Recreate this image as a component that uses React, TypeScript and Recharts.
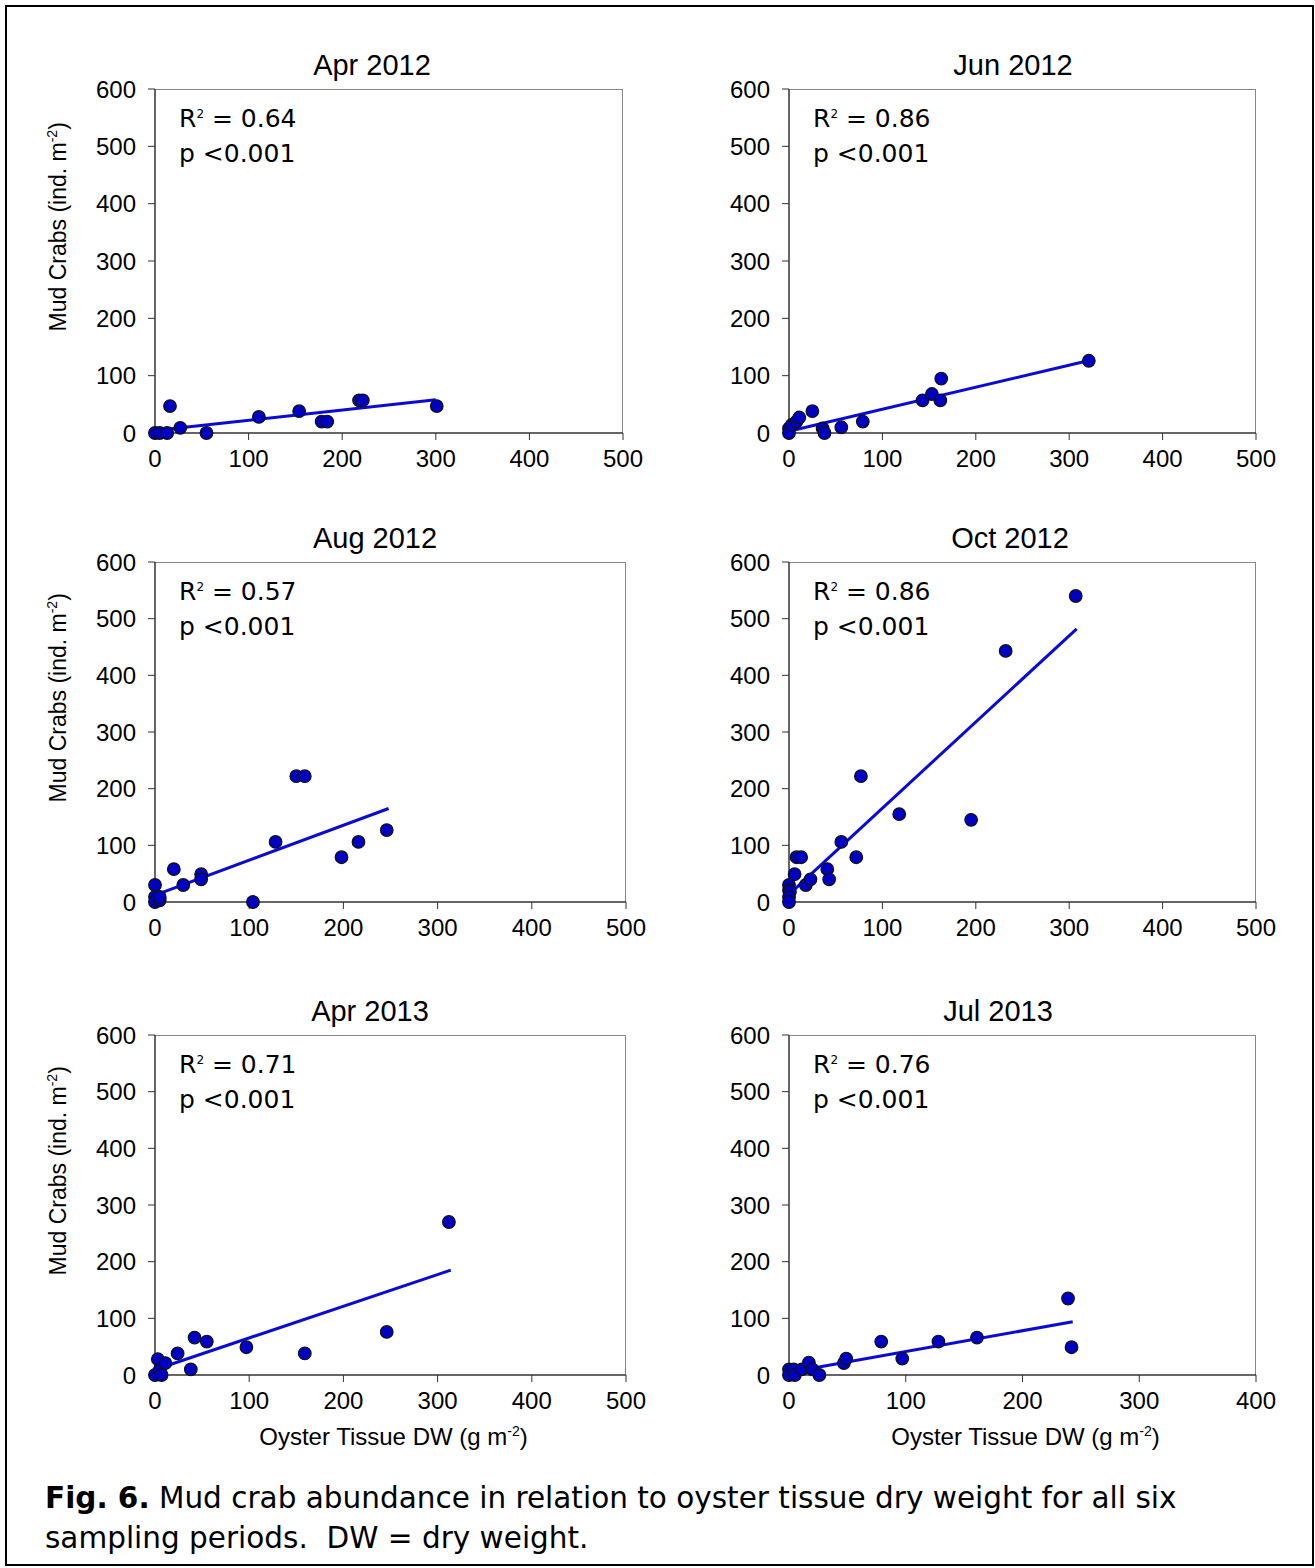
import React from "react";
import { ScatterChart, Scatter, XAxis, YAxis } from "recharts";

type Pt = { x: number; y: number };

const yTicks = [0, 100, 200, 300, 400, 500, 600];
const xTicks500 = [0, 100, 200, 300, 400, 500];
const xTicks400 = [0, 100, 200, 300, 400];

const apr2012: Pt[] = [
  { x: 0, y: 0 }, { x: 5, y: 0 }, { x: 13, y: 0 }, { x: 16, y: 47 }, { x: 27, y: 9 }, { x: 55, y: 0 },
  { x: 111, y: 28 }, { x: 154, y: 38 }, { x: 178, y: 20 }, { x: 184, y: 20 }, { x: 218, y: 57 },
  { x: 222, y: 57 }, { x: 301, y: 47 },
];
const apr2012Trend: Pt[] = [{ x: 10, y: 6 }, { x: 300, y: 58 }];

const jun2012: Pt[] = [
  { x: 0, y: 8 }, { x: 0, y: 0 }, { x: 3, y: 14 }, { x: 8, y: 20 }, { x: 11, y: 27 }, { x: 25, y: 38 },
  { x: 36, y: 8 }, { x: 38, y: 0 }, { x: 56, y: 10 }, { x: 79, y: 20 }, { x: 143, y: 57 },
  { x: 153, y: 68 }, { x: 162, y: 57 }, { x: 163, y: 95 }, { x: 321, y: 126 },
];
const jun2012Trend: Pt[] = [{ x: 0, y: 3 }, { x: 320, y: 126 }];

const aug2012: Pt[] = [
  { x: 0, y: 30 }, { x: 0, y: 9 }, { x: 0, y: 0 }, { x: 5, y: 3 }, { x: 5, y: 9 }, { x: 20, y: 58 },
  { x: 30, y: 30 }, { x: 49, y: 49 }, { x: 49, y: 40 }, { x: 104, y: 0 }, { x: 128, y: 106 },
  { x: 150, y: 222 }, { x: 159, y: 222 }, { x: 198, y: 79 }, { x: 216, y: 106 }, { x: 246, y: 127 },
];
const aug2012Trend: Pt[] = [{ x: 3, y: 14 }, { x: 248, y: 165 }];

const oct2012: Pt[] = [
  { x: 0, y: 30 }, { x: 0, y: 21 }, { x: 1, y: 18 }, { x: 0, y: 9 }, { x: 0, y: 0 }, { x: 6, y: 49 },
  { x: 8, y: 79 }, { x: 13, y: 79 }, { x: 18, y: 30 }, { x: 23, y: 40 }, { x: 41, y: 58 },
  { x: 43, y: 40 }, { x: 56, y: 106 }, { x: 72, y: 79 }, { x: 77, y: 222 }, { x: 118, y: 155 },
  { x: 195, y: 145 }, { x: 232, y: 443 }, { x: 307, y: 540 },
];
const oct2012Trend: Pt[] = [{ x: 3, y: 18 }, { x: 308, y: 482 }];

const apr2013: Pt[] = [
  { x: 0, y: 0 }, { x: 3, y: 28 }, { x: 5, y: 9 }, { x: 7, y: 0 }, { x: 11, y: 21 }, { x: 24, y: 38 },
  { x: 38, y: 10 }, { x: 42, y: 66 }, { x: 55, y: 59 }, { x: 97, y: 49 }, { x: 159, y: 38 },
  { x: 246, y: 76 }, { x: 312, y: 270 },
];
const apr2013Trend: Pt[] = [{ x: 10, y: 15 }, { x: 314, y: 185 }];

const jul2013: Pt[] = [
  { x: 0, y: 10 }, { x: 0, y: 0 }, { x: 4, y: 10 }, { x: 5, y: 0 }, { x: 11, y: 10 }, { x: 17, y: 22 },
  { x: 20, y: 10 }, { x: 26, y: 0 }, { x: 47, y: 21 }, { x: 49, y: 29 }, { x: 79, y: 59 },
  { x: 97, y: 29 }, { x: 128, y: 59 }, { x: 161, y: 66 }, { x: 239, y: 135 }, { x: 242, y: 49 },
];
const jul2013Trend: Pt[] = [{ x: 15, y: 10 }, { x: 243, y: 94 }];

const sans = "'Liberation Sans', Arial, sans-serif";
const verdana = "'DejaVu Sans', Verdana, sans-serif";

type PanelProps = {
  title: string; points: Pt[]; trend: Pt[]; r2: string; xMax: number; xTicks: number[];
  left: number; top: number; w: number; h: number; titleX: number; yLabel?: boolean; xLabel?: boolean;
};

function Dot(props: any) {
  const { cx, cy } = props;
  if (cx == null || cy == null) return <g />;
  return <circle cx={cx} cy={cy} r={6.3} fill="#0000c4" stroke="#111" strokeWidth={1.2} />;
}

function Panel(p: PanelProps) {
  const padL = 80, padT = 20, padR = 30, padB = 50;
  const tick = { fontSize: 24, fill: "#000", fontFamily: sans };
  return (
    <>
      <div style={{ position: "absolute", left: p.titleX - 150, width: 300, top: p.top - 40, textAlign: "center", fontFamily: sans, fontSize: 29 }}>
        {p.title}
      </div>
      <div style={{ position: "absolute", left: p.left, top: p.top, width: p.w, height: p.h, boxSizing: "border-box",
        borderTop: "1.5px solid #888", borderRight: "1.5px solid #888" }} />
      <div style={{ position: "absolute", left: p.left - padL, top: p.top - padT }}>
        <ScatterChart width={p.w + padL + padR} height={p.h + padT + padB} margin={{ top: padT, right: padR, bottom: 0, left: 0 }}>
          <XAxis type="number" dataKey="x" domain={[0, p.xMax]} ticks={p.xTicks} height={padB}
            tick={tick} tickSize={7} tickMargin={10} axisLine={{ stroke: "#333", strokeWidth: 1.5 }} tickLine={{ stroke: "#333" }} interval={0} />
          <YAxis type="number" dataKey="y" domain={[0, 600]} ticks={yTicks} width={padL}
            tick={tick} tickSize={7} tickMargin={12} axisLine={{ stroke: "#333", strokeWidth: 1.5 }} tickLine={{ stroke: "#333" }} interval={0} />
          <Scatter data={p.trend} line={{ stroke: "#0a0ad8", strokeWidth: 3 }} shape={() => <g />} isAnimationActive={false} />
          <Scatter data={p.points} shape={Dot} isAnimationActive={false} />
        </ScatterChart>
      </div>
      <div style={{ position: "absolute", left: p.left + 24, top: p.top + 8, fontFamily: verdana, fontSize: 25, lineHeight: "35px", background: "#fff" }}>
        <div>R<sup style={{ fontSize: 12 }}>2</sup> = {p.r2}</div>
        <div>p &lt;0.001</div>
      </div>
      {p.yLabel && (
        <div style={{ position: "absolute", left: 58 - 150, top: p.top + p.h / 2 - 48, width: 300, textAlign: "center",
          transform: "rotate(-90deg)", fontFamily: sans, fontSize: 23, whiteSpace: "nowrap" }}>
          Mud Crabs (ind. m<sup style={{ fontSize: 14 }}>-2</sup>)
        </div>
      )}
      {p.xLabel && (
        <div style={{ position: "absolute", left: p.left + p.w / 2 - 200 + 3, top: p.top + p.h + 48, width: 400, textAlign: "center",
          fontFamily: sans, fontSize: 24, whiteSpace: "nowrap" }}>
          Oyster Tissue DW (g m<sup style={{ fontSize: 14 }}>-2</sup>)
        </div>
      )}
    </>
  );
}

export default function App() {
  return (
    <div style={{ position: "absolute", left: 0, top: 0, width: 1315, height: 1568, background: "#fff" }}>
      <div style={{ position: "absolute", left: 5, top: 5, width: 1305, height: 1557, border: "2px solid #000" }} />
      <Panel title="Apr 2012" points={apr2012} trend={apr2012Trend} r2="0.64" xMax={500} xTicks={xTicks500}
        left={155} top={89} w={468} h={344} titleX={372} yLabel />
      <Panel title="Jun 2012" points={jun2012} trend={jun2012Trend} r2="0.86" xMax={500} xTicks={xTicks500}
        left={789} top={89} w={467} h={344} titleX={1013} />
      <Panel title="Aug 2012" points={aug2012} trend={aug2012Trend} r2="0.57" xMax={500} xTicks={xTicks500}
        left={155} top={562} w={471} h={340} titleX={375} yLabel />
      <Panel title="Oct 2012" points={oct2012} trend={oct2012Trend} r2="0.86" xMax={500} xTicks={xTicks500}
        left={789} top={562} w={467} h={340} titleX={1010} />
      <Panel title="Apr 2013" points={apr2013} trend={apr2013Trend} r2="0.71" xMax={500} xTicks={xTicks500}
        left={155} top={1035} w={471} h={340} titleX={370} yLabel xLabel />
      <Panel title="Jul 2013" points={jul2013} trend={jul2013Trend} r2="0.76" xMax={400} xTicks={xTicks400}
        left={789} top={1035} w={467} h={340} titleX={998} xLabel />
      <div style={{ position: "absolute", left: 45, top: 1478, fontFamily: verdana, fontSize: 29.5, lineHeight: "40px" }}>
        <div><b>Fig. 6.</b> Mud crab abundance in relation to oyster tissue dry weight for all six</div>
        <div>sampling periods.&nbsp; DW = dry weight.</div>
      </div>
    </div>
  );
}
